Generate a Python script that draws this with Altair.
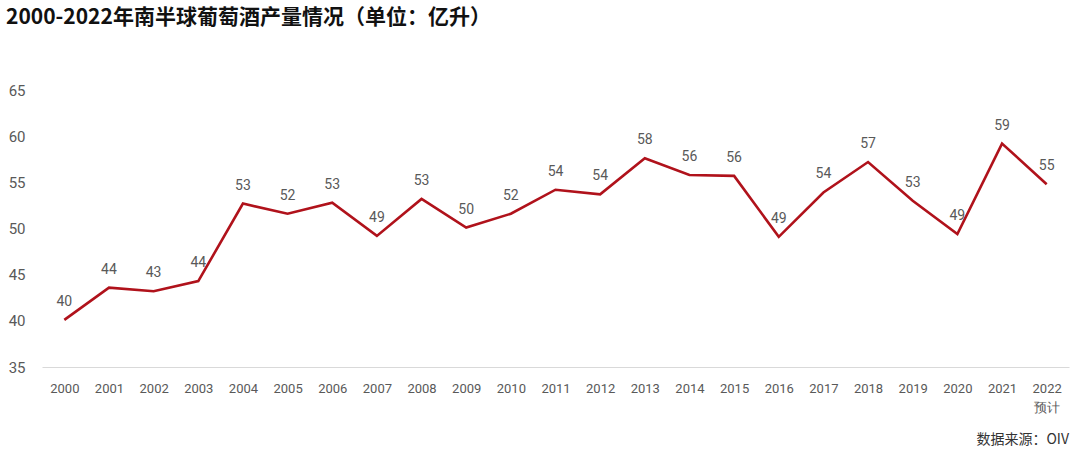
import altair as alt
import pandas as pd

years = [str(y) for y in range(2000, 2023)]
values = [40.1, 43.6, 43.2, 44.3, 52.7, 51.6, 52.8, 49.2, 53.2, 50.1, 51.6, 54.2,
          53.7, 57.6, 55.8, 55.7, 49.1, 53.9, 57.2, 53.0, 49.4, 59.2, 54.8]
labels = [40, 44, 43, 44, 53, 52, 53, 49, 53, 50, 52, 54,
          54, 58, 56, 56, 49, 54, 57, 53, 49, 59, 55]
y_ticks = [35, 40, 45, 50, 55, 60, 65]

title_text = "2000-2022年南半球葡萄酒产量情况（单位：亿升）"
source_text = "数据来源：OIV"

df = pd.DataFrame({"year": years, "value": values, "label": [str(v) for v in labels]})

NUM_FONT = "Roboto"
CJK_FONT = "Noto Sans CJK SC"
GRAY = "#595959"

x_enc = alt.X("year:N", sort=years,
              scale=alt.Scale(paddingInner=1, paddingOuter=0.5),
              axis=alt.Axis(title=None, labelAngle=0, ticks=False, domain=True,
                            domainColor="#d9d9d9", domainWidth=1,
                            labelFont=NUM_FONT, labelFontSize=13, labelColor=GRAY,
                            labelPadding=15, grid=False,
                            labelExpr="datum.label == '2022' ? ['2022', '预计'] : datum.label",
                            labelLineHeight=19))
y_enc = alt.Y("value:Q", scale=alt.Scale(domain=[35, 65], nice=False, zero=False),
              axis=alt.Axis(title=None, values=y_ticks, ticks=False, domain=False, grid=False,
                            labelFont=NUM_FONT, labelFontSize=15, labelColor=GRAY,
                            labelPadding=17))

base = alt.Chart(df)

line = base.mark_line(color="#B0121B", strokeWidth=2.6).encode(x=x_enc, y=y_enc)

text = base.mark_text(dy=-18, font=NUM_FONT, fontSize=14, color=GRAY).encode(
    x=alt.X("year:N", sort=years), y="value:Q", text="label:N")

title = alt.Chart(pd.DataFrame({"t": [title_text]})).mark_text(
    align="left", baseline="middle", font=CJK_FONT, fontSize=21, fontWeight="bold",
    color="#111111").encode(x=alt.value(-36), y=alt.value(-72), text="t:N")

source = alt.Chart(pd.DataFrame({"t": [source_text]})).mark_text(
    align="right", baseline="middle", font=CJK_FONT, fontSize=14,
    color="#333333").encode(x=alt.value(1027), y=alt.value(350), text="t:N")

chart = alt.layer(line, text, title, source).properties(
    width=1027, height=277,
    background="white",
    autosize=alt.AutoSizeParams(type="none"),
    padding={"left": 42, "top": 90, "right": 11, "bottom": 83},
).configure_view(strokeWidth=0, stroke="transparent")

chart.save("out.html", embed_options={"renderer": "svg", "actions": False})
